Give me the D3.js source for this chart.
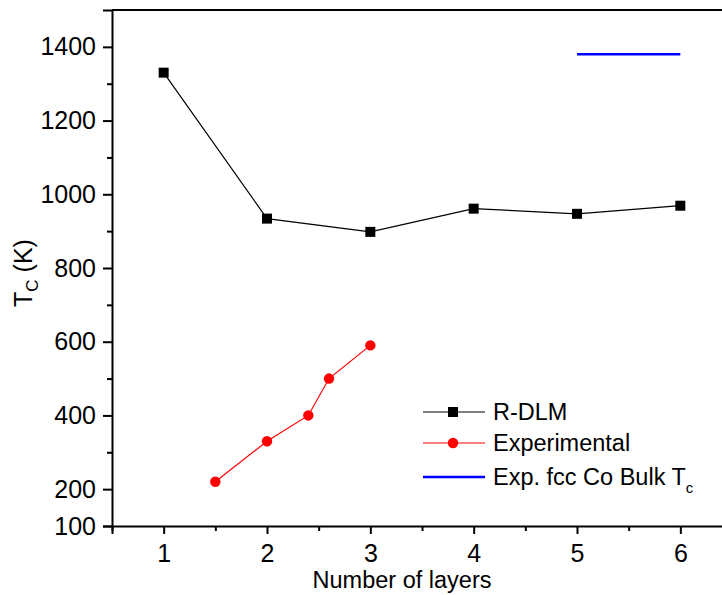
<!DOCTYPE html>
<html><head><meta charset="utf-8">
<script src="https://cdn.jsdelivr.net/npm/d3@7"></script>
<style>body{margin:0;background:#fff}svg{display:block;font-family:"Liberation Sans",Arial,sans-serif}</style>
</head><body><svg id="c" width="722" height="595"></svg>
<script>
const rdlmLayers = [1, 2, 3, 4, 5, 6];
const rdlmTc = [1330, 934, 898, 961, 947, 969];
const expLayers = [1.5, 2, 2.4, 2.6, 3];
const expTc = [220, 330, 400, 500, 590];
const bulkLayers = [5, 6];
const bulkTc = [1380, 1380];
const yTicks = [100, 200, 400, 600, 800, 1000, 1200, 1400];
const yMinor = [300, 500, 700, 900, 1100, 1300];
const xTicks = [1, 2, 3, 4, 5, 6];
const xMinor = [0.5, 1.5, 2.5, 3.5, 4.5, 5.5];
const legendLabels = ["R-DLM", "Experimental", "Exp. fcc Co Bulk T"];

const svg = d3.select("#c");
const x = d3.scaleLinear().domain([0.5, 6.5]).range([112, 732]);
const y = d3.scaleLinear().domain([100, 1500]).range([526, 10]);

// frame
svg.append("line").attr("x1", 112).attr("x2", 732).attr("y1", y(1500)).attr("y2", y(1500)).attr("stroke", "#000").attr("stroke-width", 2);

// y axis
const ya = svg.append("g").attr("transform", "translate(112,0)")
  .call(d3.axisLeft(y).tickValues(yTicks).tickSize(9).tickPadding(7).tickFormat(d3.format("d")));
ya.select(".domain").attr("stroke-width", 2);
ya.selectAll(".tick line").attr("stroke-width", 2);
ya.selectAll("text").attr("font-size", 25).attr("font-family", "Liberation Sans, Arial, sans-serif").attr("fill", "#000");
svg.append("g").attr("transform", "translate(112,0)")
  .call(d3.axisLeft(y).tickValues(yMinor).tickSize(5).tickFormat(""))
  .call(g => { g.select(".domain").remove(); g.selectAll(".tick line").attr("stroke-width", 2); });

// x axis
const xa = svg.append("g").attr("transform", "translate(0,526)")
  .call(d3.axisBottom(x).tickValues(xTicks).tickSize(8).tickPadding(10).tickFormat(d3.format("d")));
xa.select(".domain").attr("stroke-width", 2);
xa.selectAll(".tick line").attr("stroke-width", 2);
xa.selectAll("text").attr("font-size", 25).attr("font-family", "Liberation Sans, Arial, sans-serif").attr("fill", "#000");
svg.append("g").attr("transform", "translate(0,526)")
  .call(d3.axisBottom(x).tickValues(xMinor).tickSize(5).tickFormat(""))
  .call(g => { g.select(".domain").remove(); g.selectAll(".tick line").attr("stroke-width", 2); });

// titles
svg.append("text").attr("x", 402).attr("y", 588).attr("text-anchor", "middle").attr("font-size", 23.5).text("Number of layers");
const yt = svg.append("text").attr("transform", "translate(32,273) rotate(-90)").attr("text-anchor", "middle").attr("font-size", 25);
yt.append("tspan").text("T");
yt.append("tspan").attr("font-size", 17).attr("dy", 6).text("C");
yt.append("tspan").attr("dy", -6).text(" (K)");

const line = d3.line().x(d => x(d[0])).y(d => y(d[1]));
const rdlm = rdlmLayers.map((l, i) => [l, rdlmTc[i]]);
const exp = expLayers.map((l, i) => [l, expTc[i]]);
const bulk = bulkLayers.map((l, i) => [l, bulkTc[i]]);

svg.append("path").datum(rdlm).attr("d", line).attr("fill", "none").attr("stroke", "#000").attr("stroke-width", 1.2);
svg.selectAll(".sq").data(rdlm).enter().append("rect")
  .attr("x", d => x(d[0]) - 5).attr("y", d => y(d[1]) - 5).attr("width", 10).attr("height", 10).attr("fill", "#000");

svg.append("path").datum(exp).attr("d", line).attr("fill", "none").attr("stroke", "#ff0000").attr("stroke-width", 1.2);
svg.selectAll(".ci").data(exp).enter().append("circle")
  .attr("cx", d => x(d[0])).attr("cy", d => y(d[1])).attr("r", 5.2).attr("fill", "#ff0000");

svg.append("path").datum(bulk).attr("d", line).attr("fill", "none").attr("stroke", "#0000ff").attr("stroke-width", 2.5);

// legend
const lg = svg.append("g");
const rows = [412, 443, 477];
const colors = ["#000", "#ff0000", "#0000ff"];
rows.forEach((ry, i) => {
  lg.append("line").attr("x1", 423).attr("x2", 485).attr("y1", ry).attr("y2", ry)
    .attr("stroke", colors[i]).attr("stroke-width", i === 2 ? 2.5 : 1.2);
  if (i === 0) lg.append("rect").attr("x", 448).attr("y", ry - 5).attr("width", 10).attr("height", 10).attr("fill", "#000");
  if (i === 1) lg.append("circle").attr("cx", 453).attr("cy", ry).attr("r", 5.2).attr("fill", "#ff0000");
  const t = lg.append("text").attr("x", 493).attr("y", ry + 8).attr("font-size", 23.5).text(legendLabels[i]);
  if (i === 2) t.append("tspan").attr("font-size", 15).attr("dy", 8).text("c");
});
</script></body></html>
